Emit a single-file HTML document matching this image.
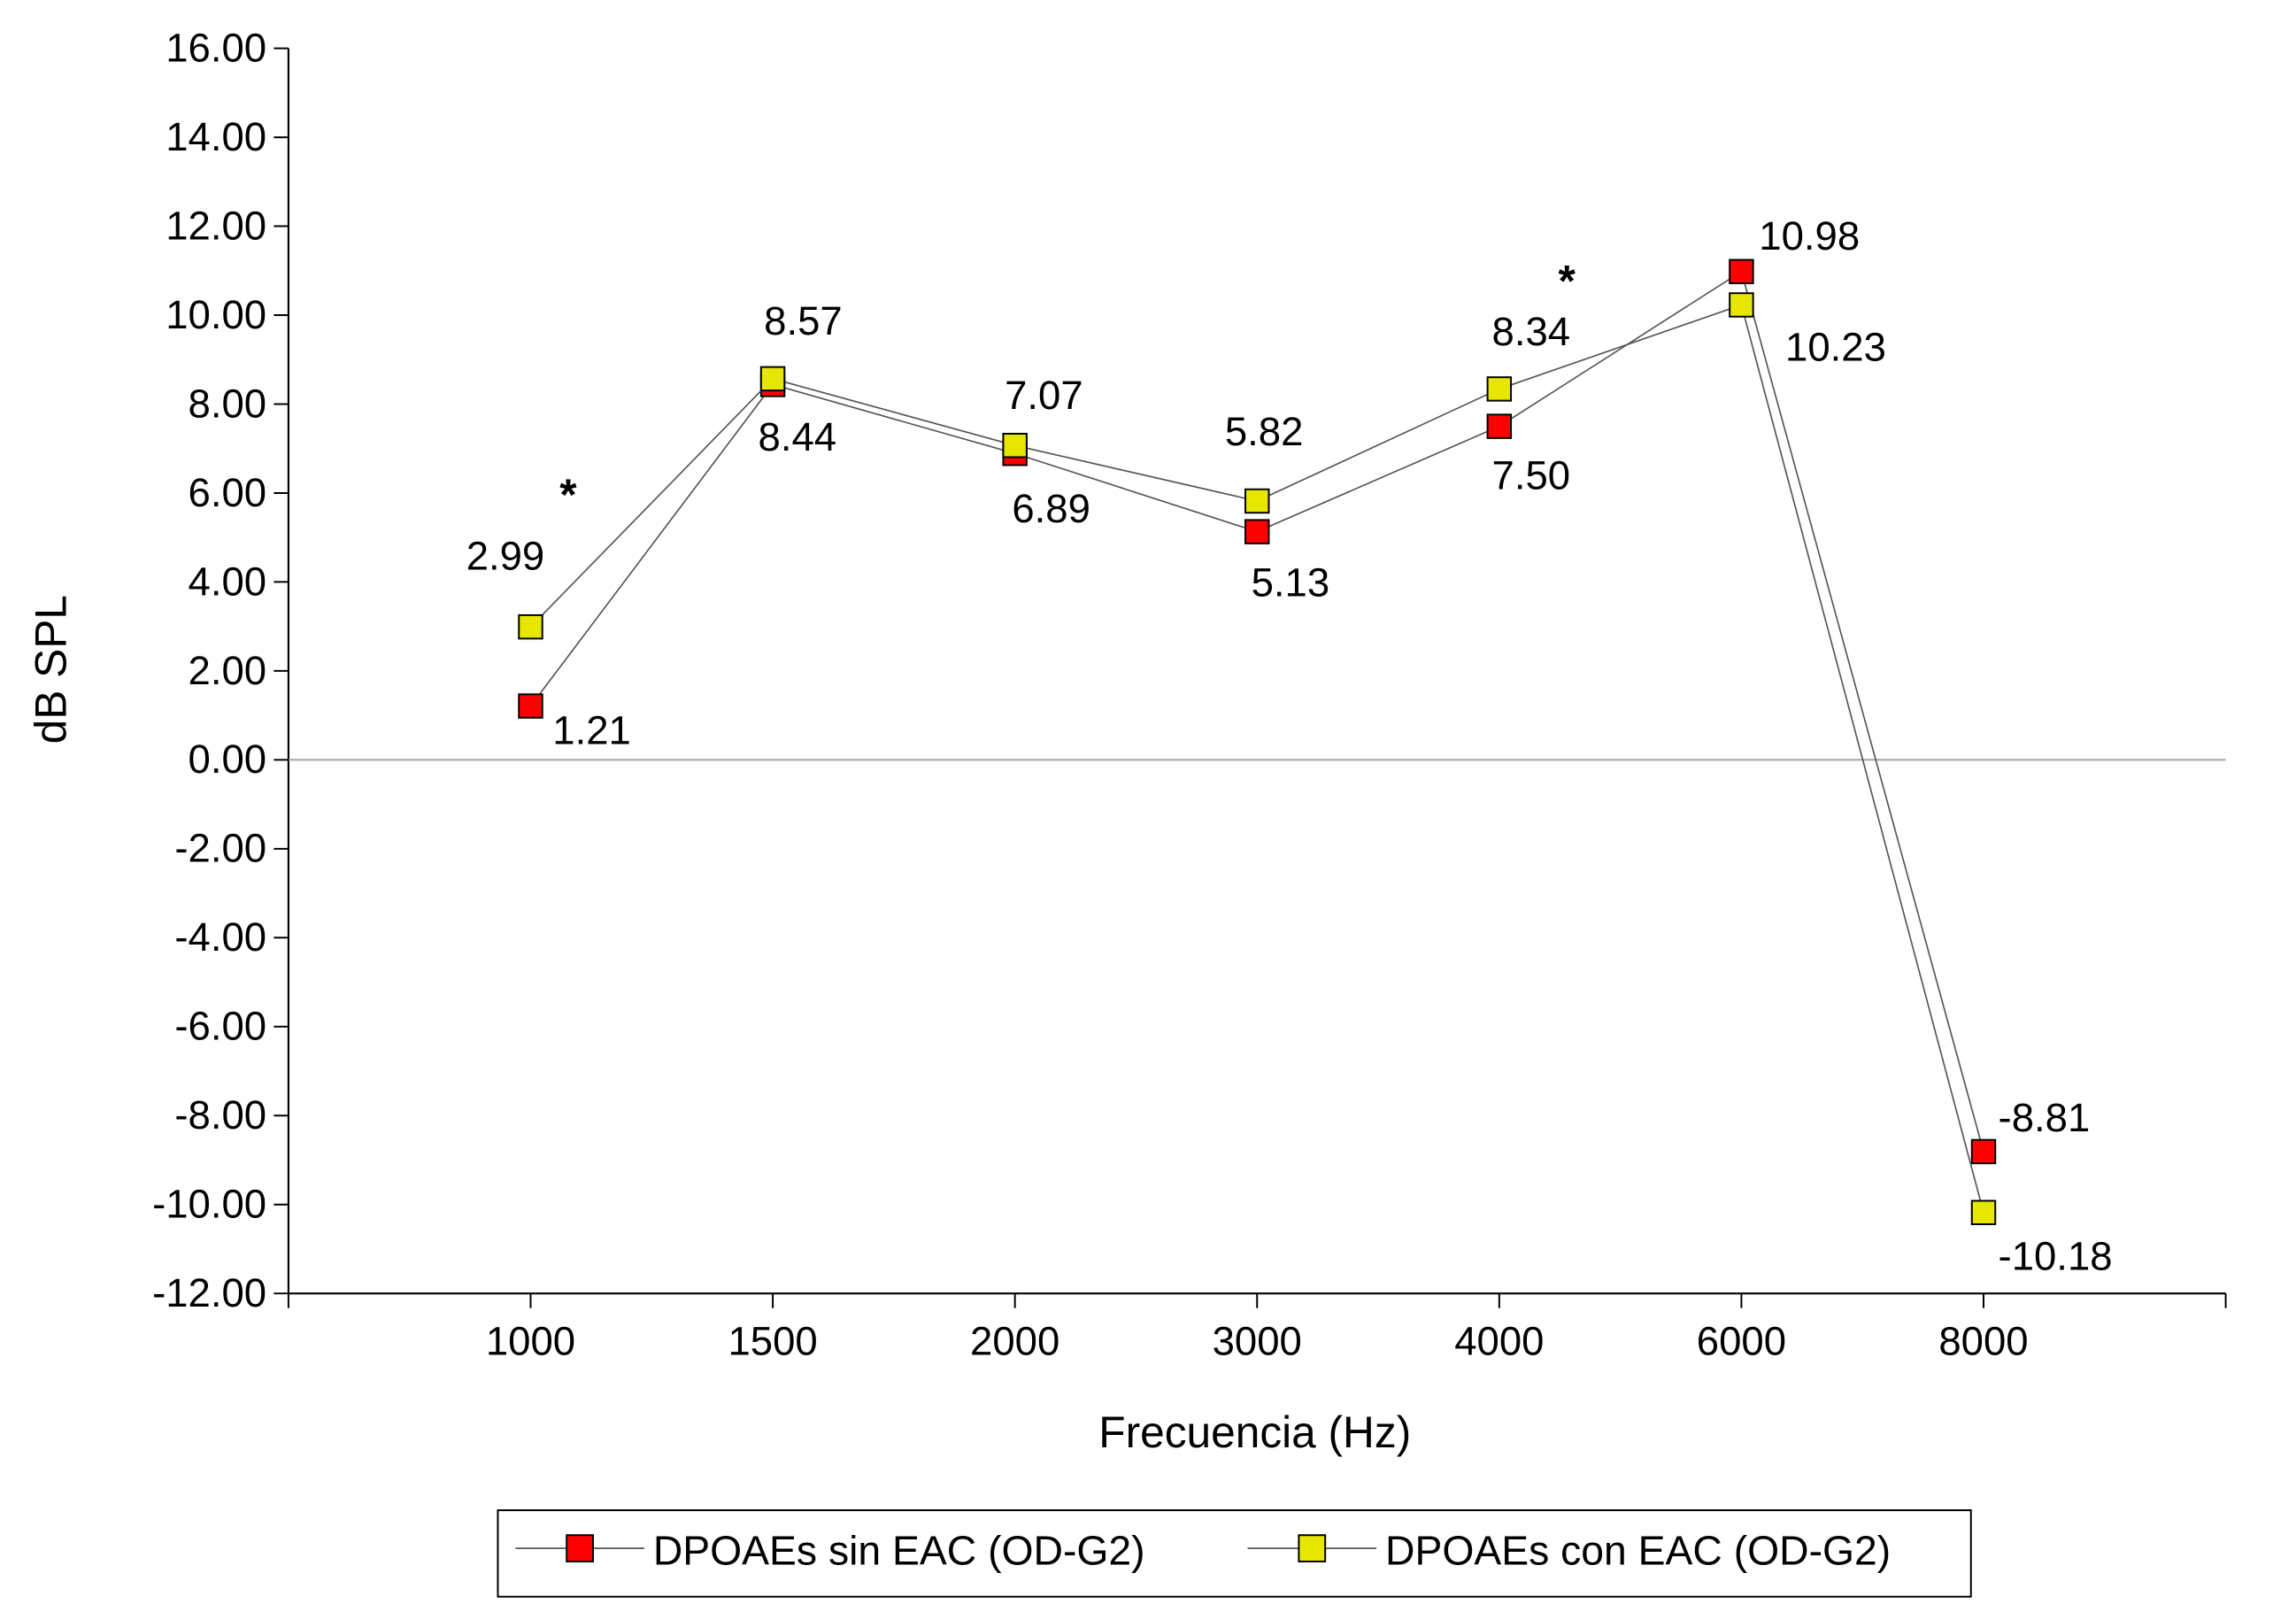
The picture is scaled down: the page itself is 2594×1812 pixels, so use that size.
<!DOCTYPE html>
<html><head><meta charset="utf-8"><style>
html,body{margin:0;padding:0;background:#fff;}
svg{display:block;font-family:"Liberation Sans",Arial,sans-serif;}
</style></head><body>
<svg id="chart" width="2594" height="1812" viewBox="0 0 1568 1095" preserveAspectRatio="none" xmlns="http://www.w3.org/2000/svg">
<g id="axes"></g><g id="series"></g><g id="labels"></g>
<g>
<rect x="340" y="1031" width="1006" height="59" fill="#fff" stroke="#000" stroke-width="1.2"/>
<line x1="352" y1="1057" x2="440" y2="1057" stroke="#555" stroke-width="1"/>
<rect x="387" y="1048" width="18" height="18" fill="#ff0000" stroke="#000" stroke-width="1.2"/>
<text x="446" y="1068" font-size="28">DPOAEs sin EAC (OD-G2)</text>
<line x1="852" y1="1057" x2="940" y2="1057" stroke="#555" stroke-width="1"/>
<rect x="887" y="1048" width="18" height="18" fill="#e6e600" stroke="#000" stroke-width="1.2"/>
<text x="946" y="1068" font-size="28">DPOAEs con EAC (OD-G2)</text>
</g>
<text x="857" y="988" font-size="30" text-anchor="middle">Frecuencia (Hz)</text>
<text x="45" y="457" font-size="30" text-anchor="middle" transform="rotate(-90 45 457)">dB SPL</text>
<text x="388" y="348" font-size="30" font-weight="bold" text-anchor="middle">*</text>
<text x="1070" y="202" font-size="30" font-weight="bold" text-anchor="middle">*</text>
</svg>
<script>
const categories = ["1000","1500","2000","3000","4000","6000","8000"];
const sinValues = [1.21, 8.44, 6.89, 5.13, 7.50, 10.98, -8.81];
const conValues = [2.99, 8.57, 7.07, 5.82, 8.34, 10.23, -10.18];
const yTicks = [16,14,12,10,8,6,4,2,0,-2,-4,-6,-8,-10,-12];
// label offsets (layout only)
const sinOff = [[15,26],[-10,45],[-2,47],[-4,44],[-5,43],[12,-15],[10,-14]];
const conOff = [[-44,-39],[-6,-30],[-7,-25],[-22,-38],[-5,-30],[30,38],[10,39]];

const NS="http://www.w3.org/2000/svg";
const X0=197,X1=1520,Y0=33,Y1=883,YMAX=16,YMIN=-12;
const slot=(X1-X0)/(categories.length+1);
function xs(i){return X0+slot*(i+1);}
function ys(v){return Y0+(YMAX-v)/(YMAX-YMIN)*(Y1-Y0);}
function mk(tag,attrs,parent){const e=document.createElementNS(NS,tag);for(const k in attrs)e.setAttribute(k,attrs[k]);parent.appendChild(e);return e;}
const axes=document.getElementById('axes'),series=document.getElementById('series'),labels=document.getElementById('labels');

let a=mk('line',{x1:X0,y1:Y0,x2:X0,y2:Y1,stroke:'#000','stroke-width':1.3},axes);


a=mk('line',{x1:X0,y1:Y1,x2:X1,y2:Y1,stroke:'#000','stroke-width':1.3},axes);


a=mk('line',{x1:X0,y1:ys(0),x2:X1,y2:ys(0),stroke:'#999','stroke-width':1},axes);


yTicks.forEach(v=>{
  mk('line',{x1:X0-10,y1:ys(v),x2:X0,y2:ys(v),stroke:'#000','stroke-width':1.2},axes);
  const t=mk('text',{x:182,y:ys(v)+9,'font-size':27.5,'text-anchor':'end'},axes);
  t.textContent=v.toFixed(2);
  
  
});
for(let i=0;i<=categories.length+1;i++){
  mk('line',{x1:X0+slot*i,y1:Y1,x2:X0+slot*i,y2:Y1+10,stroke:'#000','stroke-width':1.2},axes);
}
categories.forEach((c,i)=>{
  const t=mk('text',{x:xs(i),y:925,'font-size':27.5,'text-anchor':'middle'},axes);
  t.textContent=c;
  
  
});
function drawSeries(vals,color,name,off){
  const pts=vals.map((v,i)=>xs(i)+','+ys(v)).join(' ');
  const pl=mk('polyline',{points:pts,fill:'none',stroke:'#555','stroke-width':1},series);
  
  
  vals.forEach((v,i)=>{
    const r=mk('rect',{x:xs(i)-8,y:ys(v)-8,width:16,height:16,fill:color,stroke:'#000','stroke-width':1.2},series);
    
    
    const t=mk('text',{x:xs(i)+off[i][0],y:ys(v)+off[i][1],'font-size':27.5},labels);
    t.textContent=v.toFixed(2);
    
    
  });
}
drawSeries(sinValues,'#ff0000','sin-eac',sinOff);
drawSeries(conValues,'#e6e600','con-eac',conOff);
</script>
</body></html>
